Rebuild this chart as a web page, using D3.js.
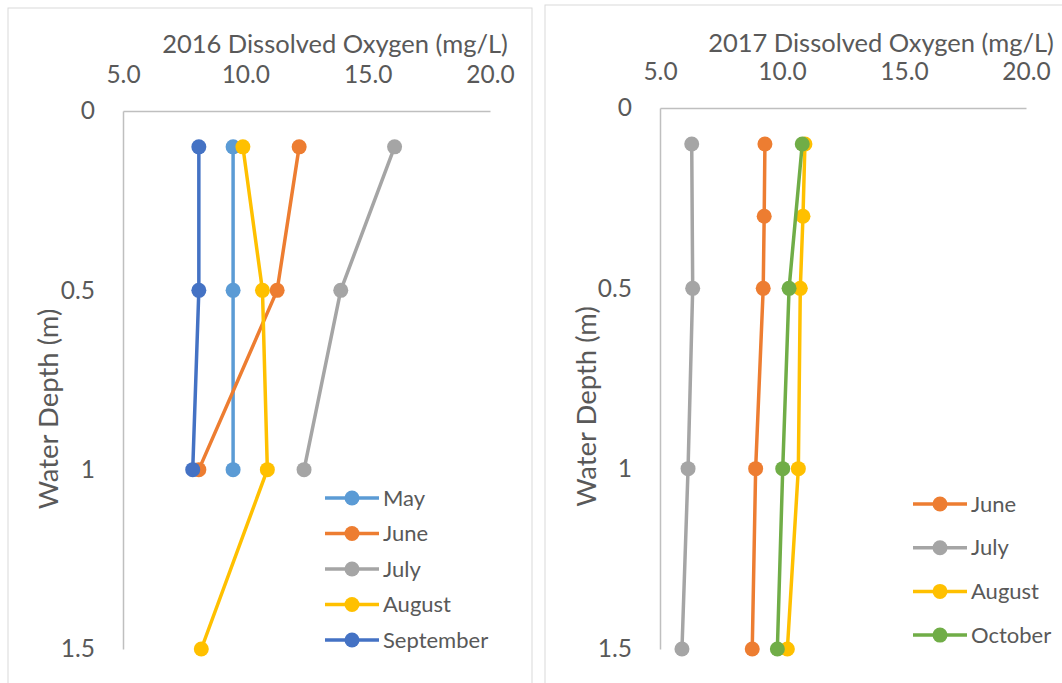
<!DOCTYPE html>
<html><head><meta charset="utf-8">
<script src="https://cdn.jsdelivr.net/npm/d3@7"></script>
<style>body{margin:0;background:#fff;} text{font-family:Lato,"Open Sans",sans-serif;fill:#595959;}</style>
</head><body><svg id="c" width="1062" height="683"></svg>
<script>
// ---- Data ----
const xTicks = [5, 10, 15, 20];
const yTicks = [0, 0.5, 1, 1.5];

// 2016
const months2016 = ["May", "June", "July", "August", "September"];
const colors2016 = ["#5B9BD5", "#ED7D31", "#A5A5A5", "#FFC000", "#4472C4"];
const depth2016 = [0.1, 0.5, 1];
const depth2016Aug = [0.1, 0.5, 1, 1.5];
const may2016 = [9.5, 9.5, 9.5];
const june2016 = [12.2, 11.3, 8.1];
const july2016 = [16.1, 13.9, 12.4];
const aug2016 = [9.9, 10.7, 10.9, 8.2];
const sep2016 = [8.1, 8.1, 7.85];

// 2017
const months2017 = ["June", "July", "August", "October"];
const colors2017 = ["#ED7D31", "#A5A5A5", "#FFC000", "#70AD47"];
const depth2017Full = [0.1, 0.3, 0.5, 1, 1.5];
const depth2017 = [0.1, 0.5, 1, 1.5];
const june2017 = [9.3, 9.27, 9.23, 8.92, 8.78];
const july2017 = [6.3, 6.34, 6.15, 5.9];
const aug2017 = [10.94, 10.86, 10.75, 10.67, 10.22];
const oct2017 = [10.83, 10.29, 10.03, 9.81];

const svg = d3.select("#c");

function panel(cfg) {
  const g = svg.append("g");
  g.append("rect").attr("x", cfg.box[0]).attr("y", cfg.box[1]).attr("width", cfg.box[2]).attr("height", cfg.box[3])
    .attr("fill", "#fff").attr("stroke", "#d9d9d9").attr("stroke-width", 1);
  const x = d3.scaleLinear().domain([5, 20]).range([cfg.x0, cfg.x1]);
  const y = d3.scaleLinear().domain([0, 1.5]).range([cfg.y0, cfg.y1]);

  const xa = g.append("g").attr("transform", `translate(0,${cfg.y0})`)
    .call(d3.axisTop(x).tickValues(xTicks).tickFormat(d3.format(".1f")).tickSize(0).tickPadding(cfg.xPad));
  xa.select(".domain").attr("stroke", "#bfbfbf").attr("stroke-width", 1.5);
  xa.selectAll("text").style("font-size", "24.5px").attr("fill", "#595959").style("font-family", "Lato");

  const ya = g.append("g").attr("transform", `translate(${cfg.x0},0)`)
    .call(d3.axisLeft(y).tickValues(yTicks).tickFormat(d => String(d)).tickSize(0).tickPadding(28));
  ya.select(".domain").attr("stroke", "#bfbfbf").attr("stroke-width", 1.5);
  ya.selectAll("text").style("font-size", "24.5px").attr("fill", "#595959").style("font-family", "Lato");

  g.append("text").attr("x", cfg.titleX).attr("y", cfg.titleY).attr("text-anchor", "middle")
    .style("font-size", "25.5px").text(cfg.title);
  g.append("text").attr("transform", `translate(${cfg.yTitleX},${(cfg.y0 + cfg.y1) / 2 + cfg.yTitleOff}) rotate(-90)`)
    .attr("text-anchor", "middle").style("font-size", "27.5px").text("Water Depth (m)");

  const line = d3.line().x(d => x(d[0])).y(d => y(d[1]));
  cfg.series.forEach(s => {
    const pts = s.values.map((v, i) => [v, s.depths[i]]);
    g.append("path").datum(pts).attr("d", line).attr("fill", "none")
      .attr("stroke", s.color).attr("stroke-width", 3.5).attr("stroke-linejoin", "round");
    g.selectAll(null).data(pts).enter().append("circle")
      .attr("cx", d => x(d[0])).attr("cy", d => y(d[1])).attr("r", 7.5).attr("fill", s.color);
  });

  cfg.series.forEach((s, i) => {
    const ly = cfg.legY + i * cfg.legStep;
    g.append("line").attr("x1", cfg.legX).attr("x2", cfg.legX + 54).attr("y1", ly).attr("y2", ly)
      .attr("stroke", s.color).attr("stroke-width", 3.5);
    g.append("circle").attr("cx", cfg.legX + 27).attr("cy", ly).attr("r", 7.5).attr("fill", s.color);
    g.append("text").attr("x", cfg.legX + 58).attr("y", ly).attr("dy", "0.35em")
      .style("font-size", "22px").text(s.name);
  });
}

panel({
  box: [8, 8, 524, 690], x0: 123, x1: 490, y0: 111, y1: 649, xPad: 28,
  title: "2016 Dissolved Oxygen (mg/L)", titleX: 335, titleY: 53, yTitleX: 58, yTitleOff: 29,
  legX: 325, legY: 498, legStep: 35.5,
  series: [
    {name: months2016[0], color: colors2016[0], values: may2016, depths: depth2016},
    {name: months2016[1], color: colors2016[1], values: june2016, depths: depth2016},
    {name: months2016[2], color: colors2016[2], values: july2016, depths: depth2016},
    {name: months2016[3], color: colors2016[3], values: aug2016, depths: depth2016Aug},
    {name: months2016[4], color: colors2016[4], values: sep2016, depths: depth2016}
  ]
});

panel({
  box: [545, 5, 530, 700], x0: 660, x1: 1026, y0: 108, y1: 649, xPad: 28,
  title: "2017 Dissolved Oxygen (mg/L)", titleX: 881, titleY: 52, yTitleX: 596, yTitleOff: 28,
  legX: 913, legY: 504, legStep: 43.7,
  series: [
    {name: months2017[0], color: colors2017[0], values: june2017, depths: depth2017Full},
    {name: months2017[1], color: colors2017[1], values: july2017, depths: depth2017},
    {name: months2017[2], color: colors2017[2], values: aug2017, depths: depth2017Full},
    {name: months2017[3], color: colors2017[3], values: oct2017, depths: depth2017}
  ]
});
</script></body></html>
